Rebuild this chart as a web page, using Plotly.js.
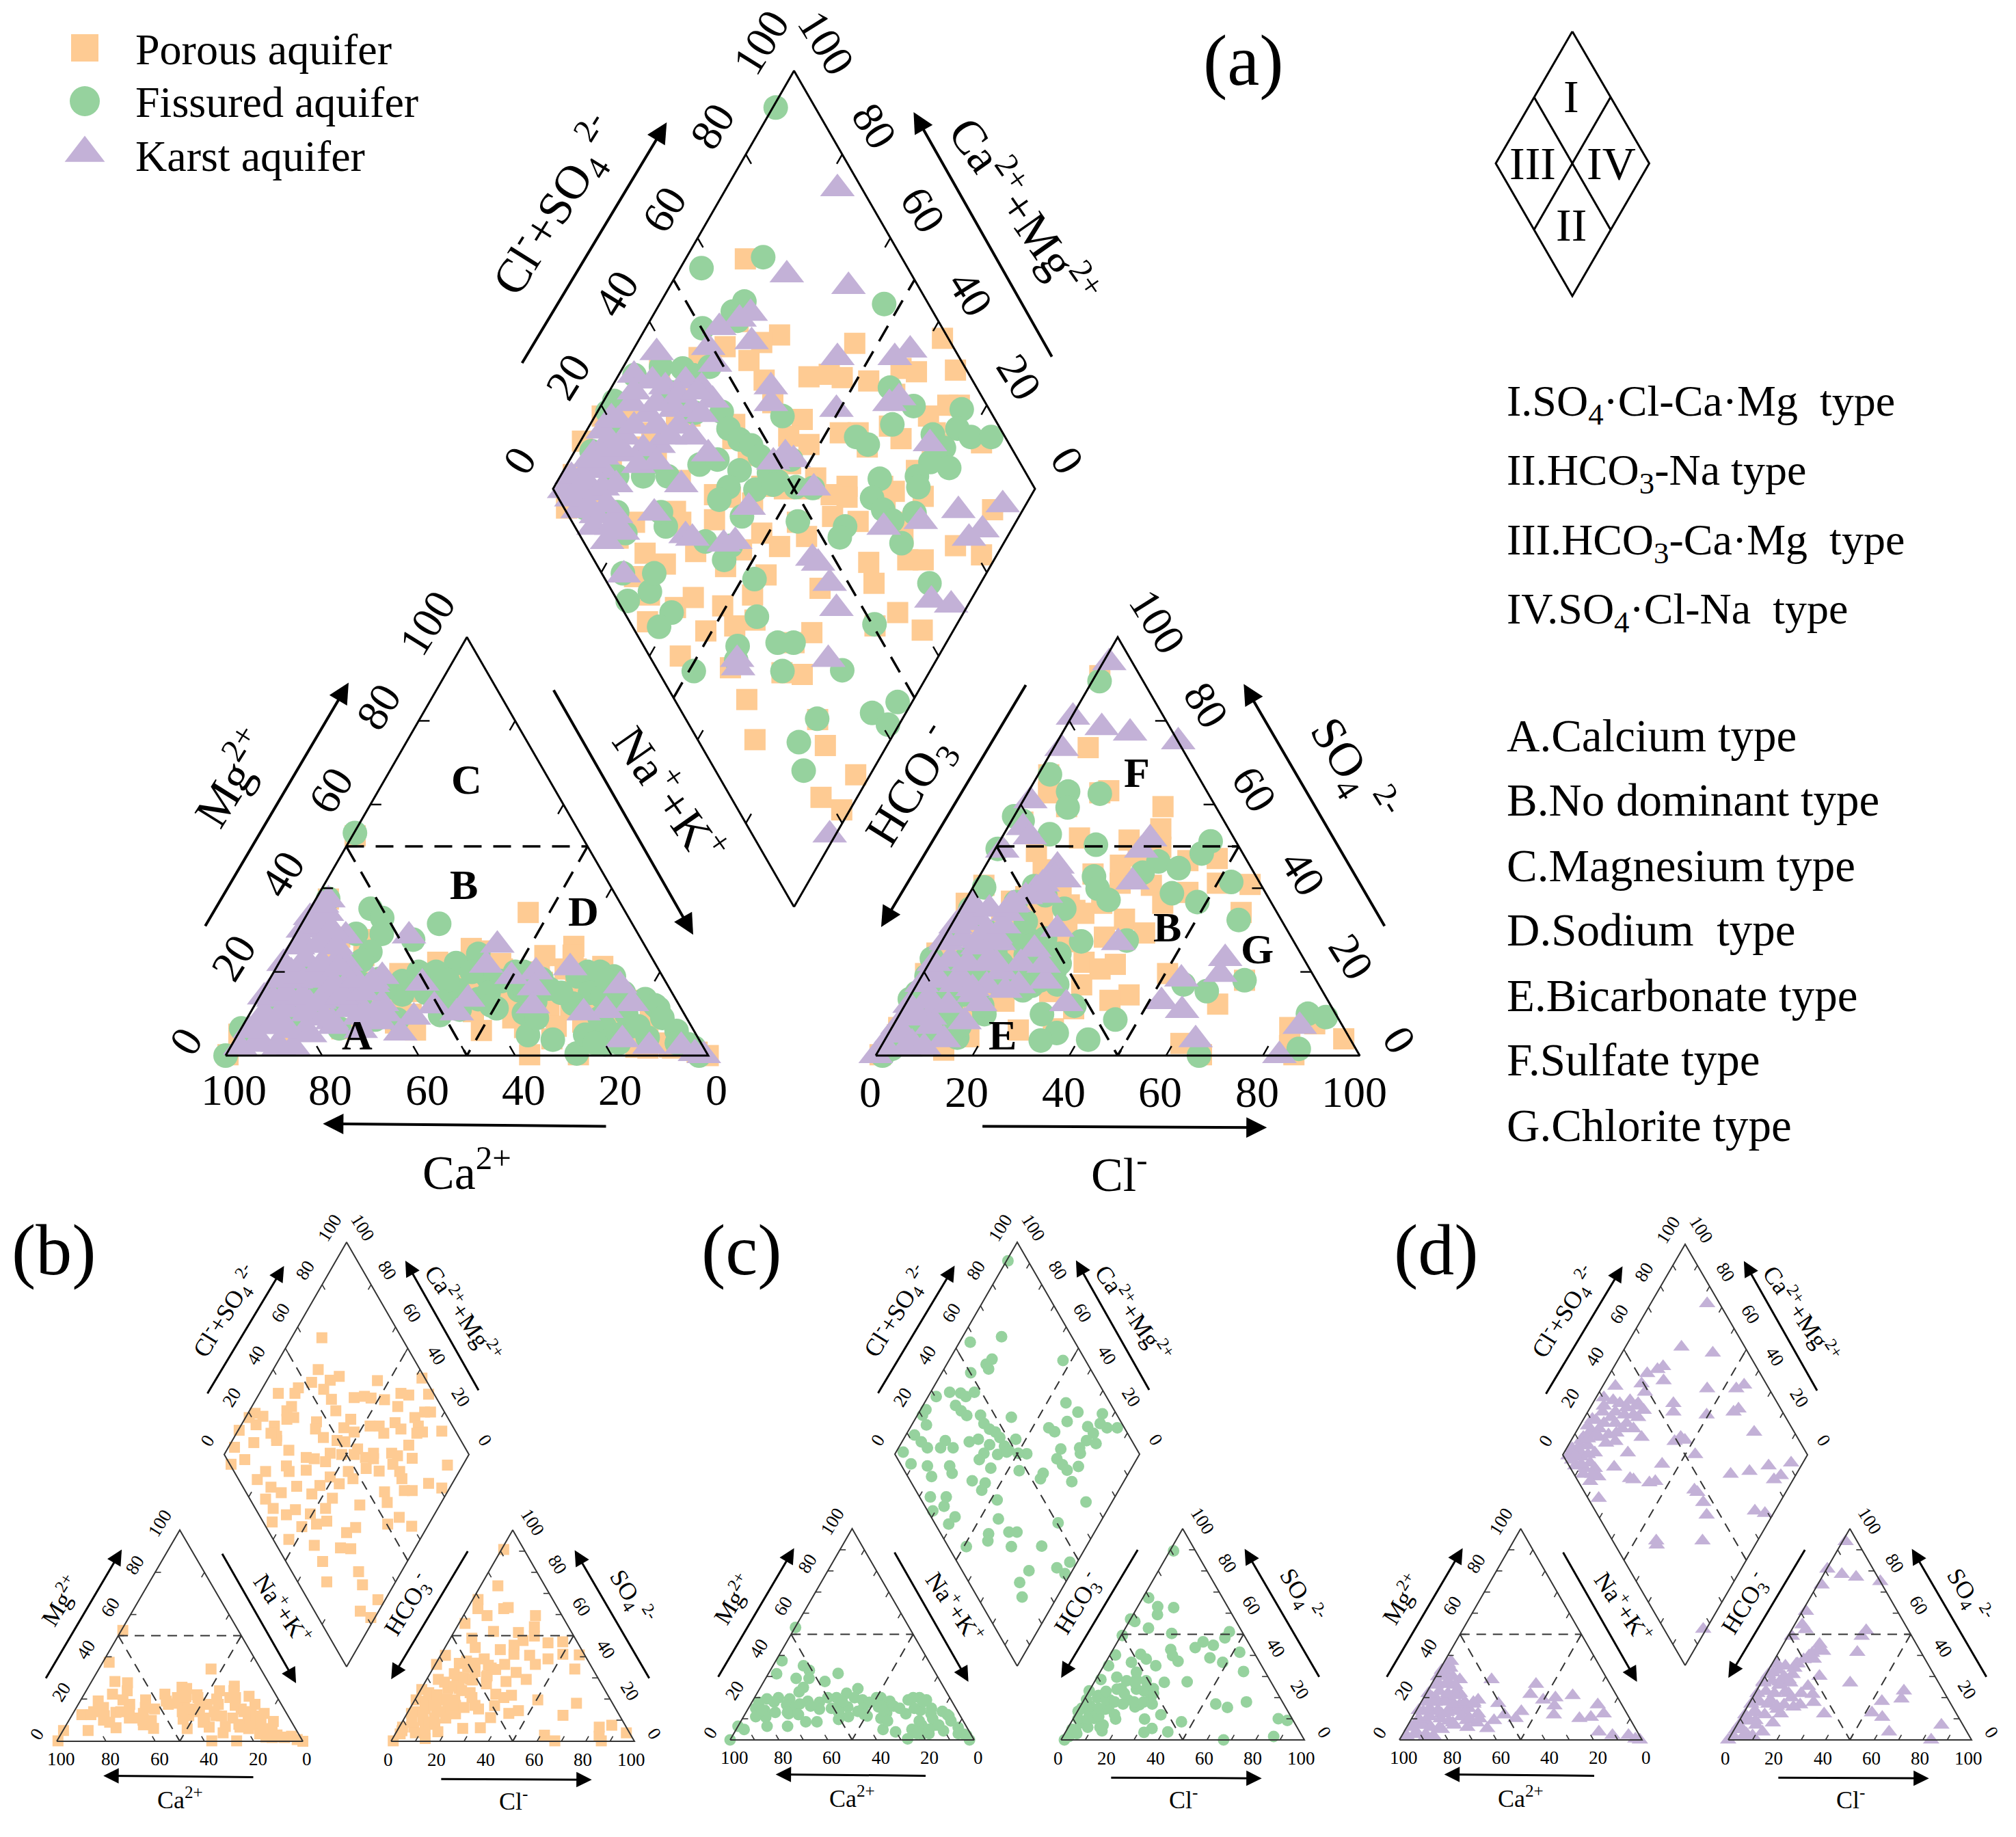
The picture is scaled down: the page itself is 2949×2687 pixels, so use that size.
<!DOCTYPE html>
<html><head><meta charset="utf-8">
<script src="https://cdn.plot.ly/plotly-3.0.1.min.js"></script>
<style>html,body{margin:0;padding:0;background:#fff}</style></head>
<body><div id="chart" style="width:2949px;height:2687px"></div>
<script>
// ---------- values (percent) ----------
const porousDiaP=[67.4,58.4,65.4,60.8,56,56.8,52.7,46,43.3,36.5,38.8,35.9,37.1,33.9,24.8,22.3,20,18.9,27.2,25.7,24.7,24.1,11.8,14.9,5.9,7.2,0.5,27.4,45.4,43.3,44.5,55.9,60,55.2,58.4,49.4,52.3,66.5,71,73.3,80,78.4,86.6,89.4,82.2,98.8,97.7,94.3,91.9,86.6,86,86.3,83.7,94.4,77.3,78.2,66.3,70,70.2,77.6,68.7,70.5,75.9,88.7,66.6,67.7,66.9,59.4,61.3,60,57,54.7,55.8,53.1,76.7,81,65.1,68.3,56.7,55.3,43.5,56.7,59.7,50.4,36.5,31.6,25.5,29.5,27.3,25.8,28.6,18.7,21.5,11.9,15,15.4,6.4,14.7,21.2,21.3,26.2,28.7,33.9,26.5,31.8,38,40.1,22.1,3.7,11.2,16.1,7.3,6.4,14.3,11.4,7.6,12.9,22.7,22.5,29.8,32.8,35.8,39.7,43.6,48,46.7,46.9];
const porousDiaQ=[87.6,81.6,71.4,74.2,74.7,69.2,81.3,85.4,85.5,92.3,83.8,84.7,80.3,82.7,93.2,97.1,94,98.5,86.2,82.9,81.9,85.9,99.6,90.7,97.5,90.4,94.9,74.6,70,68.7,63.5,64.7,56.6,57.4,52.2,57.2,53.7,60.3,56.4,53.3,54.8,47.4,42.2,38.6,40.4,37.2,30.7,25.7,28.1,30.8,27.4,24.3,26.3,16.6,37.7,33.8,47.1,43.4,39.8,26.8,31.9,28.9,22.3,6.3,28.8,24.3,21.7,32.8,39.3,38,41.6,38.7,46.8,46.9,9.7,3.2,17.9,14.7,25.7,22.1,32.7,13.7,6.5,16.8,29.1,31.6,30.5,26.1,17.5,12.8,3,7.5,1.7,28.1,34.6,41.8,53.6,51.3,50.8,45.9,42.4,45.9,45.5,54.9,53.6,51.4,46.1,62.9,64.5,60.4,57.9,67.3,72.6,67.7,73.2,80.6,79.1,71.9,69.5,62.8,65.8,62.2,56.9,57,52,45.3,41.7];
const porousNa=[0.6,2.6,45.6,9.5,14.9,16.7,11.5,17.1,7.3,20.9,3.9,7.6,13.3,17.2,10.2,20.9,0.2,0.4,26,26.3,28.6,31.3,36.3,32.1,32.8,36.6,38.1,40.3,38.7,43.7,46.1,47.6,47,52.3,54.7,58.6,54.2,56.9,59.1,62.3,65.6,62.9,73,67.5,67.3,71.1,71.8,72.3,77.7,77.6,83.3,80.7,86.6,91.7,97.3,100,94.2,33.5,47.9,60,58.7,8,11,14,17,19,22,24,28,30,35,40,42,44,46,49,51,55,57,60,61,64,66,69,70,72,75,78,81,85,88,91,84,75,65,55,50];
const porousMg=[52.5,37.4,34.2,28.3,27.7,23.9,22.3,19.6,19.1,17.5,12.6,12.6,12.1,13.7,5.1,6.4,5.1,0.2,11,19.6,13.2,7.8,6.1,15.3,22.3,17.5,25.6,25,20.7,16.4,10.5,12.1,20.7,17.5,11,6.7,23.9,17.5,26.1,20.7,4,0.2,0.2,21.3,15.3,6.7,17.5,11,13.2,7.8,9.4,3.5,1.8,1.8,0.8,0,2.4,9.9,15.3,20.7,12.1,14,16,10,9,14,15,11,16,10,19,18,21,14,22,18,14,20,14,24,12,17,11,14,8,14,12,10,6,5,3,2,2,6,7,9,6];
const porousCl=[0.9,7.1,2.2,4.3,9.7,14.9,16.5,2.5,29.6,31.8,16.1,26.6,34,41.2,47,8.8,12.4,30.4,23.2,27.8,29.9,36.6,41.1,45,50,56.9,58.4,2,0.5,4.8,18.8,28.5,9.6,23.8,11.9,24,35.1,40.9,33.1,18,25.6,10.9,15.5,22.9,31.9,38.6,36,34.1,50.5,67.2,28.3,45.1,41.8,35.3,64.5,26.4,33.5,61.6,67.2,82.2,86.9,94.7,84.3,86.3,0.4,6.1,10.8,16.4,0.5,6.4,11,15.7,1.8,8.2,12.3,16.9,1.4,6,13.4,17,0.8,2,2,4,8,11,3,7,11,14,5,9,13,17,20,4,8,13,18,22,26,8,13,17,21,10,15,19,14,18,24,12,16,22,26];
const porousSO4=[90.8,73.6,67.1,62.8,59.5,62.8,63.3,55.8,59.5,54.2,52,51.5,49.8,46.6,47.1,48.8,44.4,47.7,43.4,45.5,41.2,40.7,36.4,39,41.2,40.9,34.2,40.7,36.4,29.3,39,36.4,36.9,34.7,30.4,30.4,32.6,29.3,28.3,29.3,27.2,25,25,20.7,22.3,21.8,20.7,16.9,19.6,18,15.3,14.5,13.2,11.2,12.3,6.1,6.4,2.9,0.2,6.7,7.6,4,2.4,0.2,24.5,19.6,19.6,19.6,19.6,15.3,15.3,15.3,13.2,9.9,11,11,6.7,6.7,1.3,4.5,0.2,3.5,5,9,4,6,14,12,9,8,19,17,14,11,13,23,22,20,17,16,17,28,26,24,23,32,30,29,35,33,31,38,37,36,34];

const fissuredDiaP=[91.8,71.3,57.2,62.1,58.5,58.4,50.2,90.8,30.5,37,41.3,42.6,47.1,23.2,20.5,19.8,36.3,37.3,38.5,44.2,43.6,44.6,46.3,46.8,46.7,47.5,52.9,56.3,82,84.7,78.1,69.1,70.6,94.3,85.3,91.1,92.9,97.1,86,81.5,84.7,77,76,69,65.1,66,66.6,65.8,72.1,56.1,53.7,46.9,54,50.6,66.8,50.5,38.3,46,39.4,41.3,27.3,20.7,18.3,25.8,31.5,28.2,27,19.5,17.5,7.4,9.8,5.5,2.1,7.8,10.9,4.4,31,27,30.1,25.3,18.9,19.6,9.7,10.5,4.3,3.9,12.5,13.7,14.8,20.2,23.8,25.3,33.3,37.6,40.9,36.6,33.2,35.9,41.9,46.2];
const fissuredDiaQ=[99.4,84.1,95.6,82.7,83.9,81.8,88.2,53.4,96.7,92.2,87.5,84.6,82.1,97.8,97.9,94,86.7,83.1,79.7,74.2,70.8,67.2,64.1,61,57.1,54.3,54.1,61.1,42.2,35.1,37.3,43.3,40,24.7,27.7,23.3,19.5,15.3,23.8,24.9,20.3,26,24.4,33.4,32.7,29,25.8,21.2,22.1,34.9,34.7,45.3,46.2,49.8,10.6,17.1,18.3,3,7,2.3,17.7,18.7,14.3,30.6,31.7,35,42.4,42.9,41.5,49,60.6,61.5,71.1,67.6,68.9,75.4,47.4,56,56.3,62.1,72.1,74.8,79.7,83.9,91.1,97.1,96.5,92.1,88.2,82.8,82.6,77.7,72.5,69.4,63.5,63.8,64.2,57.5,57.9,54.8];
const fissuredNa=[0.2,2.5,3.4,12.5,16,12.5,17.8,25,28.5,17.6,16.9,5.4,2.9,9.8,14.7,7.2,14.8,19,11.9,20.3,9.2,17.8,26.7,31.3,22.7,27.7,29.3,3.3,0,0,33.6,36.4,39.6,36.7,40.2,40.4,44.8,45.6,50.5,48.2,51.8,56.3,53,57.7,56.7,60.2,65.9,72.5,63.5,67.6,71,65.8,80.2,84,76.1,75,80.6,85.3,77.2,90.5,94.5,98.1,3,5,9,12,6,17,20,22,25,30,34,37,38,41,43,47,49,50,54,56,59,60,62,65,68,71,73,75,78,79,82,83,72,75,70,86,80,92,96];
const fissuredMg=[53.2,37.5,31.3,35.1,32.9,29.1,29.1,27.7,31.5,24.8,22.7,19.4,17.8,20,19.4,14,16.7,15.6,6.5,6.5,10.8,12.4,8.6,8.6,18.3,17.8,14.6,4.9,6.5,0,20,15.1,9.7,22.1,24.3,15.6,18.9,13.5,11.3,17.8,20,18.3,15.6,12.9,10.2,4.9,3.8,0.5,18.9,20,18.9,12.4,13.5,11.3,12.4,7,7,4.3,2.7,5.9,2.7,0,15,11,18,13,14,13,17,12,16,20,15,18,13,20,11,15,12,20,16,14,16,9,15,20,15,14,9,15,10,5,7,12,5,3,18,9,3,3,2];
const fissuredCl=[1.5,2.4,8.2,10,15,2.3,0,9.5,0.5,20.3,43.6,43.2,35.2,33.3,40.2,41.8,52.7,48.1,58.8,23.7,25.9,29.5,2.3,2,12.5,10.6,15.9,21.4,2.1,8.1,16.7,28.8,38.1,0,4.9,12.6,22.5,25.8,10.6,18.1,26.9,23.9,22.6,55.1,60.7,67.2,35.1,29.4,17.5,45.2,34.7,32.3,42,14.7,13.8,0.3,5.5,10.9,8.5,4.8,3.6,2.5,1.4,84.3,88.4,86.6,66.8,2,5,8,2,6,10,13,1,4,8,12,16,1,5,9,13,17,21,25,7,11,15,19,23,27,13,17,21,29,15];
const fissuredSO4=[89.5,67.2,63.1,59.3,62.6,56.1,57.2,52.9,49.4,50.4,51.2,48.3,46.4,43.7,44.8,38.8,41.5,36.7,32.4,42.8,39.9,37.2,40.2,35.1,40.5,36.7,38.3,35.1,28.6,29.7,28.6,27.3,27.5,23.2,21,24.3,23.2,24.3,18.9,18.9,20,16.7,15.6,17,15.4,18,11.9,9.9,9.9,8.6,5.4,3.6,3.8,4.3,7,13.5,12.4,14.6,10.2,8.1,4.9,1.6,0,10,9.2,1.6,0,5,3,6,10,10,11,6,15,16,15,15,12,19,20,19,18,17,18,18,23,24,22,24,24,22,28,27,28,17,32];

const karstDiaP=[94.9,74.1,85.5,62,59,53.8,58.8,49.1,37.8,48.5,74.7,86.6,90.7,57.4,55.4,68.3,82.7,80,83.6,52.4,48.9,53.4,54.2,30.4,33.5,35.5,40.4,43,43.7,26.5,20.6,28.6,34.7,38.4,33.6,21.1,16.7,12.6,23.5,27.1,35.1,36.4,19.1,9.2,12.5,5.9,13.6,2.1,7,27.1,18.1,38.4,2.5,5.7,9.9,9.3,4.9,4.4,21.9,23,28.8,31.5,45.5,46.1,46.1,44.5,36.7,17.8,17,16,64,72.4,81.5,91.4,84.2,80.4,65.2,68.7,5.3,11,2.6,7.8,10.4,14.1,18.3,17.2,21.7,24.3,28.4,31.7,29,30.5,37.3,41.5,39.7,20.5,24.7,3.8,7.5,9.3,5.3,4.9];
const karstDiaQ=[76.9,77.1,62.9,80,81.6,84.8,76.4,84.7,94.8,81.3,56.7,44.8,42.5,67,65,50.7,39.1,40.4,27.2,56,57.5,53.6,46,96.8,92.3,88.9,85.4,81.4,77.5,93.9,96.4,89.2,84.3,80.6,81.4,91.3,94.3,95.8,86.1,83.3,77.3,72,89.3,95.2,91.9,95.7,87.4,97.5,92,73.9,76.1,57.2,92.3,87.9,83.7,80.3,82.5,75,66.9,65.2,58,55.9,37.9,36.1,31.3,26.9,22.5,41.4,40.2,1.2,26.8,19.8,13.3,4.8,6,7.8,8.2,3.5,97.7,96,95,93.8,89.8,93.5,91.3,96.6,94.7,90.7,94.8,88.7,86,81.9,85.1,81.7,78.1,85.1,81.7,87,83.3,86.9,90.3,94.7];
const karstNa=[2.7,3.3,10.6,23.7,43.1,43.2,60.9,54.3,73.4,32.1,55.8,49.8,43.5,37.3,42.8,57.7,69.1,73.5,78,80.3,86.7,93.3,97,99.1,34.4,33.5,3.2,7.9,3.6,9.2,13.9,21.6,23,3.1,8.8,14.4,20,26.2,3.5,8.3,13.5,18,23.1,27.9,4.8,9.5,5.7,11.9,13.8,11.2,6.2,16.5,2,6,10,13,2,6,10,15,19,25,3,7,12,16,20,24,28,1,5,9,13,17,21,2,6,10,14,18,22,1,5,9,13,2,6,10,1,4,7,1,4,2];
const karstMg=[37.2,31.8,28.6,28.6,26.4,21.6,21,20,16.7,17.3,16.2,18.9,13.5,11.9,10.2,11.9,10.2,10.8,12.4,3.8,2.2,2.2,0.5,0,9.2,5.4,26.4,26.4,20,20,22.1,17.8,18.9,13.5,13.5,13.5,13.5,12.4,7,7,5.9,8.1,9.2,8.1,2.7,2.7,17.8,23.2,16.7,12.4,9.2,16.7,2,3,2,2,6,7,6,5,7,6,10,11,10,9,11,10,10,14,15,14,13,14,15,18,19,18,17,18,17,22,23,22,21,26,27,26,30,31,30,33,34,36];
const karstCl=[1.3,0.3,7.5,14,25,1.7,1.5,3.2,5.7,1.6,30.8,30.3,32.3,14.9,15.7,13.3,16,22.4,36.6,60.6,61.5,54,52.6,57.9,64.2,84.1,83.4,33.2,26.2,20.1,23.9,2,2.4,10.2,10.5,10.5,7.4,0.7,13.8,7.9,1.4,14.6,21.2,19,12.9,15.4,4,2.4,6.6,14.3,12.2,0.8,5.3,0,1,3,6,9,1,4,8,1,5,9,1,4,8,12,1,4,8,12,16,19,1,4,8,12,1,4,8,11,2,6,10,14,18,12];
const karstSO4=[93.9,80.9,78.4,77.1,75,73.4,60.9,54.5,52.3,49.1,51.8,49.1,41.5,45.3,42.6,39.9,38.3,30.2,27,23.2,19.4,18.3,12.9,10.8,3.8,7,0,12.4,17.8,25.4,21.6,36.1,31.8,34,36.1,28.6,27.5,27.5,22.1,18.9,18.9,16.7,16.7,15.6,14.6,12.4,13.5,9.2,9.2,8.1,3.8,4.9,1.6,0,2,5,3,2,7,9,7,12,13,12,17,18,17,16,22,23,22,23,20,22,27,28,26,27,31,33,30,31,36,35,36,41,42,38];

const seriesNames=['Porous aquifer','Fissured aquifer','Karst aquifer'];
const seriesColors=['#FECB93','#96D29E','#C3B1D7'];
const seriesSymbols=['square','circle','triangle-up'];
const tickPct=[0,20,40,60,80,100];
const typeLines=['I.SO<sub>4</sub>·Cl-Ca·Mg  type','II.HCO<sub>3</sub>-Na type','III.HCO<sub>3</sub>-Ca·Mg  type','IV.SO<sub>4</sub>·Cl-Na  type'];
const classLines=['A.Calcium type','B.No dominant type','C.Magnesium type','D.Sodium  type','E.Bicarbonate type','F.Sulfate type','G.Chlorite type'];

// ---------- piper geometry ----------
const K=2949/1568, SERIF='"Liberation Serif","Times New Roman",serif';
const traces=[], annos=[];
const catXY=(t,na,mg)=>[t.x+t.w*(na+mg/2)/100, t.y-t.h*mg/100];
const anXY =(t,cl,so)=>[t.x+t.w*(cl+so/2)/100, t.y-t.h*so/100];
const diaXY=(d,p,q)=>[d.cx+d.hw*(p-q)/100, d.cy-d.hh*(p+q-100)/100];
function pts(arrA,arrB,f){const xs=[],ys=[];arrA.forEach((a,i)=>{const r=f(a,arrB[i]);xs.push(r[0]);ys.push(r[1]);});return [xs,ys];}
function marks(i,xy,size){traces.push({type:'scatter',mode:'markers',x:xy[0],y:xy[1],name:seriesNames[i],showlegend:false,hoverinfo:'skip',
  marker:{symbol:seriesSymbols[i],color:seriesColors[i],size:size[i],line:{width:0}}});}
function poly(list,width,color,dash){const x=[],y=[];list.forEach(l=>{l.forEach(p=>{x.push(p[0]);y.push(p[1]);});x.push(null);y.push(null);});
  traces.push({type:'scatter',mode:'lines',x,y,showlegend:false,hoverinfo:'skip',line:{width,color,dash:dash||'solid'}});}
function label(x,y,text,size,angle,extra){annos.push(Object.assign({x,y,xref:'x',yref:'y',text,showarrow:false,textangle:angle||0,
  font:{family:SERIF,size,color:'#000'},xanchor:'center',yanchor:'middle'},extra||{}));}
function arrow(x0,y0,x1,y1,w,sz){annos.push({x:x1,y:y1,ax:x0,ay:y0,xref:'x',yref:'y',axref:'x',ayref:'y',text:'',showarrow:true,arrowhead:2,arrowsize:sz,arrowwidth:w,arrowcolor:'#000'});}

function piper(P,which){
  const {s,cat,an,dia}=P;
  const big=s>0.9;
  const sz=big?[31,36,44]:[16,17,21];
  which.forEach(i=>{
    const d=[[porousDiaP,porousDiaQ,porousNa,porousMg,porousCl,porousSO4],[fissuredDiaP,fissuredDiaQ,fissuredNa,fissuredMg,fissuredCl,fissuredSO4],[karstDiaP,karstDiaQ,karstNa,karstMg,karstCl,karstSO4]][i];
    marks(i,pts(d[2],d[3],(a,b)=>catXY(cat,a,b)),sz);
    marks(i,pts(d[4],d[5],(a,b)=>anXY(an,a,b)),sz);
    marks(i,pts(d[0],d[1],(a,b)=>diaXY(dia,a,b)),sz);
  });
  const C=(a,b)=>catXY(cat,a,b), A=(a,b)=>anXY(an,a,b), D=(a,b)=>diaXY(dia,a,b);
  const lw=big?3:2, col=big?'#000':'#333';
  poly([[C(0,0),C(100,0),C(0,100),C(0,0)],[A(0,0),A(100,0),A(0,100),A(0,0)],[D(0,0),D(100,0),D(100,100),D(0,100),D(0,0)]],lw,col);
  const tl=big?16:8.5, tk=[], dxU=.5, dyU=-.866;
  const stepsFor=st=>{const o=[];for(let v=st;v<100;v+=st)o.push(v);if(!o.includes(50))o.push(50);return o;};
  stepsFor(P.catStep).forEach(v=>{
    const b=C(v,0); tk.push([b,[b[0]-dxU*tl,b[1]+dyU*tl]]);
    const l=C(0,v); tk.push([l,[l[0]+tl,l[1]]]);
    const r=C(100-v,v); tk.push([r,[r[0]-dxU*tl,r[1]-dyU*tl]]);
  });
  stepsFor(P.anStep).forEach(v=>{
    const b=A(v,0); tk.push([b,[b[0]+dxU*tl,b[1]+dyU*tl]]);
    const l=A(0,v); tk.push([l,[l[0]+dxU*tl,l[1]-dyU*tl]]);
    const r=A(100-v,v); tk.push([r,[r[0]-tl,r[1]]]);
  });
  stepsFor(P.catStep).forEach(v=>{
    const a=D(v,100); tk.push([a,[a[0]+dxU*tl,a[1]-dyU*tl]]);
    const b=D(100,v); tk.push([b,[b[0]-dxU*tl,b[1]-dyU*tl]]);
    const c=D(0,v);   tk.push([c,[c[0]+dxU*tl,c[1]+dyU*tl]]);
    const e=D(v,0);   tk.push([e,[e[0]-dxU*tl,e[1]+dyU*tl]]);
  });
  poly(tk,lw*0.8,col);
  poly([[C(0,50),C(50,50)],[C(0,50),C(50,0)],[C(50,50),C(50,0)],
        [A(0,50),A(50,50)],[A(0,50),A(50,0)],[A(50,50),A(50,0)],
        [D(0,50),D(100,50)],[D(50,0),D(50,100)]],big?3.5:2,col,big?'26px,17px':'14px,10px');
  const f=P.tickFont, k=K*s;
  tickPct.forEach(v=>{
    let q=C(0,v); label(q[0]-31*k,q[1]-11*k,String(v),f,-58);
    q=C(v,0);     label(q[0]+6.5*k,q[1]+27*k,String(100-v),f,0);
    q=A(v,0);     label(q[0]-4.5*k,q[1]+28.5*k,String(v),f,0);
    q=A(100-v,v); label(q[0]+31*k,q[1]-12*k,String(v),f,58);
    q=[dia.cx-dia.hw+dia.hw*v/100,dia.cy-dia.hh*v/100]; label(q[0]-26*k,q[1]-22*k,String(v),f,-58);
    q=[dia.cx+dia.hw-dia.hw*v/100,dia.cy-dia.hh*v/100]; label(q[0]+25*k,q[1]-22*k,String(v),f,58);
  });
  const w=big?4:3, ah=big?1.5:1.5, e=big?0:0.05;
  const cc=[cat.x+cat.w/2,cat.y], ac=[an.x+an.w/2,an.y], dc=[dia.cx,dia.cy];
  const arr=(c,a,b,g,h)=>{const ma=(a+g)/2,mb=(b+h)/2;arrow(c[0]+(ma+(a-ma)*(1+e))*k,c[1]+(mb+(b-mb)*(1+e))*k,c[0]+(ma+(g-ma)*(1+e))*k,c[1]+(mb+(h-mb)*(1+e))*k,w,ah);};
  arr(dc,-212,-97,-99,-285); arr(dc,201,-102,93,-293);
  arr(cc,-204,-100,-92,-290); arr(cc,67,-285,176,-94); arr(cc,109,55,-112,53);
  arr(ac,-71,-289,-184,-100); arr(ac,208,-100,98,-289); arr(ac,-106,big?55:58,116,big?56:59);
  const T=P.titleFont;
  label(dc[0]-185*k,dc[1]-220*k,'Cl<sup>-</sup>+SO<sub>4</sub><sup> 2-</sup>',T,-58);
  label(dc[0]+180*k,dc[1]-217*k,'Ca<sup>2+</sup>+Mg<sup>2+</sup>',T,55);
  label(cc[0]-184*k,cc[1]-217*k,'Mg<sup>2+</sup>',T,-58);
  label(cc[0]+159*k,cc[1]-204*k,'Na<sup>+</sup>+K<sup>+</sup>',T,55);
  label(cc[0],cc[1]+88*k,'Ca<sup>2+</sup>',T,0);
  label(ac[0]-161*k,ac[1]-210*k,'HCO<sub>3</sub><sup>-</sup>',T,-58);
  label(ac[0]+183*k,ac[1]-222*k,'SO<sub>4</sub><sup> 2-</sup>',T,58);
  label(ac[0]+1*k,ac[1]+90*k,'Cl<sup>-</sup>',T,0);
}

piper({s:1,tickFont:64,titleFont:70,catStep:20,anStep:20,cat:{x:330,w:706,y:1544,h:612},an:{x:1281,w:708,y:1544,h:612},dia:{cx:1161.5,cy:715,hw:352.5,hh:611.5}},[0,1,2]);
piper({s:.506,tickFont:27,titleFont:36,catStep:20,anStep:10,cat:{x:83,w:360,y:2547,h:309},an:{x:572,w:356,y:2547,h:309},dia:{cx:507,cy:2127.5,hw:179,hh:310.5}},[0]);
piper({s:.506,tickFont:27,titleFont:36,catStep:10,anStep:10,cat:{x:1068,w:357,y:2545,h:309},an:{x:1552,w:356,y:2545,h:309},dia:{cx:1488,cy:2127,hw:179,hh:310}},[1]);
piper({s:.506,tickFont:27,titleFont:36,catStep:10,anStep:10,cat:{x:2047,w:355,y:2545,h:309},an:{x:2528,w:356,y:2545,h:309},dia:{cx:2465,cy:2128,hw:179,hh:308}},[2]);

[[124,70,40],[124,148,44],[124,224,51]].forEach((l,i)=>{
  traces.push({type:'scatter',mode:'markers',x:[l[0]],y:[l[1]],name:seriesNames[i],showlegend:false,hoverinfo:'skip',marker:{symbol:seriesSymbols[i],color:seriesColors[i],size:l[2],line:{width:0}}});
  label(196,[72,149,228][i],seriesNames[i],64,0,{xanchor:'left'});
});

poly([[[2300,46],[2412.5,239],[2300,433],[2188,239],[2300,46]],[[2244,142],[2356,336]],[[2356,142],[2244,336]]],3,'#000');
[['I',2298,141],['III',2242,239],['IV',2357,239],['II',2298,329]].forEach(a=>label(a[1],a[2],a[0],68,0));

const typeY=[591,692,794,895], classY=[1076,1170,1266,1360,1456,1550,1646];
typeLines.forEach((t,i)=>label(2202,typeY[i],t,64,0,{xanchor:'left'}));
classLines.forEach((t,i)=>label(2202,classY[i],t,67,0,{xanchor:'left'}));

[['C',363,606],['B',361,688],['D',454,709],['A',278,805],['F',884,601],['B',908,721],['G',978,738],['E',780,805]].forEach(a=>label(a[1]*K,a[2]*K,'<b>'+a[0]+'</b>',62,0));
[['(a)',967,47],['(b)',42,972],['(c)',577,972],['(d)',1117,972]].forEach(a=>label(a[1]*K,a[2]*K,a[0],106,0));

Plotly.newPlot('chart',traces,{
  width:2949,height:2687,margin:{l:0,r:0,t:0,b:0},paper_bgcolor:'#fff',plot_bgcolor:'#fff',showlegend:false,
  xaxis:{range:[0,2949],visible:false,fixedrange:true},
  yaxis:{range:[2687,0],visible:false,fixedrange:true},
  annotations:annos
},{displayModeBar:false,staticPlot:true});
</script></body></html>
